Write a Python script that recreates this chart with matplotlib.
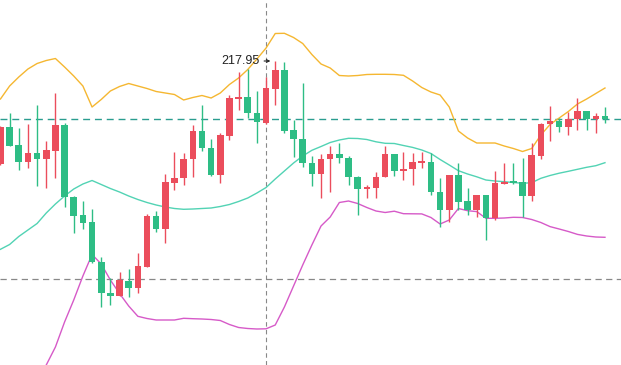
import matplotlib
matplotlib.use("Agg")
import matplotlib.pyplot as plt
import numpy as np

# candle data (price)
opens = [207.62, 211.35, 209.55, 207.88, 208.78, 208.15, 208.95, 211.55, 204.32, 202.55,
         201.82, 197.88, 194.72, 194.48, 195.95, 195.22, 197.32, 202.45, 201.18, 205.78,
         206.22, 208.12, 210.95, 209.25, 206.58, 210.48, 214.15, 214.38, 212.78, 211.78,
         215.18, 217.05, 211.05, 210.15, 207.72, 206.62, 208.15, 208.65, 208.28, 206.38,
         205.15, 205.28, 206.32, 208.62, 206.98, 207.12, 207.78, 207.85, 204.82, 203.05,
         206.55, 203.95, 203.05, 204.55, 202.22, 205.65, 205.95, 205.88, 204.45, 208.45,
         211.62, 211.95, 211.38, 212.12, 212.95, 212.15, 212.45]
closes = [211.38, 209.48, 207.88, 208.78, 208.15, 209.05, 211.55, 204.32, 202.48, 201.72,
          197.88, 194.72, 194.48, 196.05, 195.22, 197.45, 202.45, 201.12, 205.85, 206.22,
          208.15, 210.95, 209.22, 206.58, 210.58, 214.25, 214.32, 212.72, 211.82, 215.28,
          217.05, 210.98, 210.12, 207.72, 206.62, 208.12, 208.65, 208.22, 206.32, 205.12,
          205.38, 206.38, 208.62, 206.98, 207.15, 207.88, 207.95, 204.82, 203.05, 206.55,
          203.88, 203.05, 204.55, 202.28, 205.72, 205.88, 205.72, 204.45, 208.55, 211.65,
          211.95, 211.38, 212.12, 212.95, 212.15, 212.45, 212.12]
highs = [211.45, 212.72, 211.30, 211.65, 213.55, 209.95, 214.75, 211.78, 204.45, 203.95,
         203.12, 198.38, 196.28, 196.85, 197.12, 198.78, 202.65, 202.95, 206.62, 208.88,
         208.78, 211.55, 213.55, 210.18, 210.72, 214.55, 216.88, 217.15, 214.95, 216.35,
         217.95, 217.85, 212.05, 215.78, 208.48, 208.62, 209.45, 209.72, 208.45, 206.45,
         205.55, 206.88, 209.45, 208.65, 208.82, 208.78, 208.88, 208.75, 206.22, 206.55,
         207.78, 205.22, 204.55, 204.55, 206.98, 207.78, 207.78, 208.22, 209.72, 211.75,
         213.45, 212.22, 212.88, 214.22, 212.95, 212.72, 213.38]
lows = [207.55, 209.45, 207.05, 207.22, 205.45, 205.22, 206.25, 203.32, 200.75, 201.12,
        197.72, 193.32, 193.52, 194.45, 194.32, 194.72, 197.32, 200.88, 199.72, 205.05,
        205.55, 206.38, 208.98, 206.48, 205.72, 210.05, 213.05, 212.25, 209.78, 211.65,
        213.55, 210.75, 208.38, 207.38, 205.45, 204.28, 204.88, 207.72, 205.55, 202.55,
        204.22, 204.22, 206.32, 206.48, 206.05, 205.55, 207.22, 204.55, 201.38, 201.88,
        203.05, 202.55, 202.38, 200.05, 202.05, 205.62, 205.62, 202.38, 203.98, 208.15,
        209.98, 210.88, 210.55, 211.05, 211.05, 210.72, 211.78]

# bollinger bands
upper = [214.15, 215.45, 216.35, 217.15, 217.70, 218.00, 218.20, 217.35, 216.45, 215.45,
         213.35, 214.10, 214.95, 215.40, 215.70, 215.45, 215.20, 214.90, 214.75, 214.60,
         214.05, 214.30, 214.50, 214.25, 214.75, 215.60, 216.25, 217.10, 218.15, 219.25,
         220.70, 220.72, 220.30, 219.70, 218.60, 217.65, 217.25, 216.50, 216.45, 216.50,
         216.60, 216.62, 216.62, 216.60, 216.52, 215.95, 215.30, 214.85, 214.55, 213.35,
         210.95, 210.25, 209.75, 209.75, 209.75, 209.45, 209.20, 208.90, 209.20, 210.55,
         211.60, 212.25, 212.90, 213.65, 214.15, 214.70, 215.25]
middle = [199.12, 199.60, 200.40, 201.05, 201.70, 202.75, 203.65, 204.45, 205.15, 205.65,
          206.00, 205.60, 205.20, 204.85, 204.45, 204.10, 203.80, 203.55, 203.35, 203.20,
          203.12, 203.15, 203.20, 203.25, 203.40, 203.60, 203.90, 204.25, 204.75, 205.30,
          206.15, 206.95, 207.75, 208.45, 209.02, 209.40, 209.80, 210.05, 210.22, 210.20,
          210.10, 209.87, 209.72, 209.70, 209.50, 209.31, 209.05, 208.70, 208.10, 207.55,
          206.98, 206.65, 206.37, 206.05, 205.95, 205.88, 205.80, 205.72, 205.78, 206.22,
          206.50, 206.73, 206.92, 207.12, 207.32, 207.48, 207.78]
lower = [184.05, 184.25, 184.55, 185.05, 185.85, 187.55, 189.35, 191.85, 194.05, 196.45,
         198.60, 197.65, 196.05, 194.70, 193.45, 192.42, 192.20, 192.05, 192.05, 192.05,
         192.22, 192.18, 192.15, 192.10, 192.00, 191.60, 191.30, 191.20, 191.15, 191.17,
         191.55, 193.35, 195.45, 197.55, 199.55, 201.45, 202.35, 203.80, 203.95, 203.70,
         203.30, 202.95, 202.80, 202.93, 202.68, 202.67, 202.66, 202.30, 201.65, 202.05,
         203.20, 202.98, 202.89, 202.22, 202.22, 202.25, 202.32, 202.30, 202.10, 201.80,
         201.39, 201.15, 200.90, 200.61, 200.45, 200.35, 200.32]

last_price = 212.15
ref_level = 196.15
cross_idx = 29
peak_label = "217.95"

UP = "#eb4d5c"
DOWN = "#2ebd85"

fig = plt.figure(figsize=(6.21, 3.65), dpi=100)
ax = fig.add_axes([0, 0, 1, 1])

x = np.arange(len(opens))
width = 0.72
for i in x:
    o, c, h, l = opens[i], closes[i], highs[i], lows[i]
    col = UP if c >= o else DOWN
    ax.vlines(i, l, h, color=col, lw=1.0, zorder=3)
    bottom = min(o, c)
    height = max(abs(c - o), 0.2)
    ax.bar(i, height, width=width, bottom=bottom, color=col, zorder=4, linewidth=0)

ax.plot(x, upper, color="#f5b731", lw=1.0, zorder=2)
ax.plot(x, middle, color="#52d3b4", lw=1.0, zorder=2)
ax.plot(x, lower, color="#d65ac8", lw=1.0, zorder=2)

ax.axhline(last_price, color="#2a9d8f", lw=1.0, ls=(0, (5, 3.5)), zorder=1)
ax.axhline(ref_level, color="#888888", lw=0.9, ls=(0, (5, 3.5)), zorder=1)
ax.axvline(cross_idx, color="#888888", lw=0.8, ls=(0, (4, 3)), zorder=1)

# max price label with small arrow pointing at the high
peak_i = int(np.argmax(highs))
peak_xy = (peak_i, highs[peak_i])
ax.annotate(peak_label, xy=peak_xy, xytext=(-11.4, 0), textcoords="offset points",
            ha="right", va="center", fontsize=9, color="#222222",
            family=["Liberation Sans", "DejaVu Sans"], zorder=6)
ax.annotate("", xy=peak_xy, xytext=(-8, 0), textcoords="offset points",
            arrowprops=dict(arrowstyle="->", color="#222222", lw=0.8,
                            shrinkA=0, shrinkB=3.5, mutation_scale=5), zorder=6)

ax.set_xlim(-0.05, 67.75)
ax.set_ylim(187.55, 224.05)
ax.axis("off")

fig.savefig("out.png", dpi=100)
